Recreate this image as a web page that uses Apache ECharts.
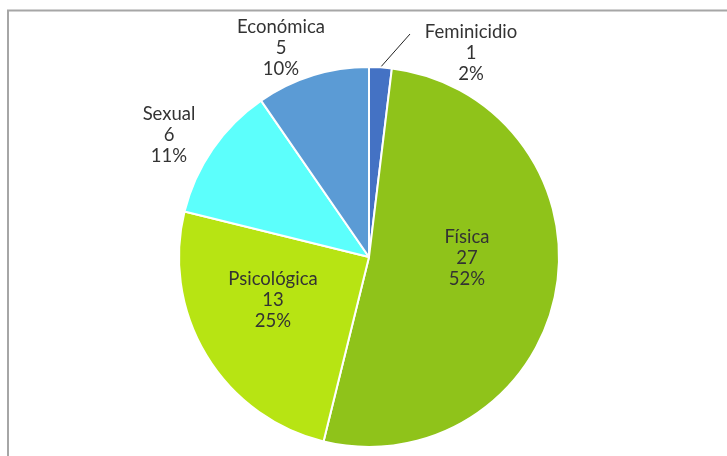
<!DOCTYPE html>
<html>
<head>
<meta charset="utf-8">
<script src="https://cdn.jsdelivr.net/npm/echarts@6/dist/echarts.min.js"></script>
<style>
  html, body { margin: 0; padding: 0; background: #fff; }
  #chart { width: 727px; height: 456px; }
</style>
</head>
<body>
<div id="chart"></div>
<script>
// datos
const categories = ['Feminicidio', 'Física', 'Psicológica', 'Sexual', 'Económica'];
const values = [1, 27, 13, 6, 5];
const percents = ['2%', '52%', '25%', '11%', '10%'];
const colors = ['#4472c4', '#8fc31a', '#b7e413', '#5cfffc', '#5b9bd5'];

// posición de cada etiqueta (centro del bloque de texto)
const labelPos = [
  [471, 53],
  [467, 258],
  [273, 300],
  [169, 135],
  [281, 48]
];
// extremo de la línea guía de Feminicidio
const leaderEnd = [410, 34];

const chart = echarts.init(document.getElementById('chart'));

const option = {
  backgroundColor: '#fff',
  animation: false,
  graphic: [{
    type: 'rect',
    shape: { x: 8, y: 10.5, width: 740, height: 460 },
    style: { fill: 'none', stroke: '#a6a6a6', lineWidth: 2 },
    silent: true
  }],
  series: [{
    type: 'pie',
    center: [369, 257],
    radius: 190,
    startAngle: 90,
    clockwise: true,
    avoidLabelOverlap: false,
    itemStyle: { borderColor: '#fff', borderWidth: 2 },
    data: categories.map((name, i) => ({
      name,
      value: values[i],
      itemStyle: { color: colors[i] },
      labelLine: { show: i === 0 }
    })),
    label: {
      show: true,
      formatter: (p) => p.name + '\n' + p.value + '\n' + percents[p.dataIndex],
      fontFamily: 'Lato',
      fontSize: 18.5,
      lineHeight: 21,
      color: '#333',
      align: 'center',
      verticalAlign: 'middle'
    },
    labelLine: {
      show: true,
      length: 10,
      length2: 10,
      smooth: false,
      lineStyle: { color: '#222', width: 1 }
    },
    labelLayout: (params) => {
      const i = params.dataIndex;
      const res = {
        x: labelPos[i][0],
        y: labelPos[i][1],
        align: 'center',
        verticalAlign: 'middle'
      };
      if (i === 0 && params.labelLinePoints) {
        const start = params.labelLinePoints[0];
        res.labelLinePoints = [start, leaderEnd, leaderEnd];
      }
      return res;
    }
  }]
};

chart.setOption(option);
</script>
</body>
</html>
